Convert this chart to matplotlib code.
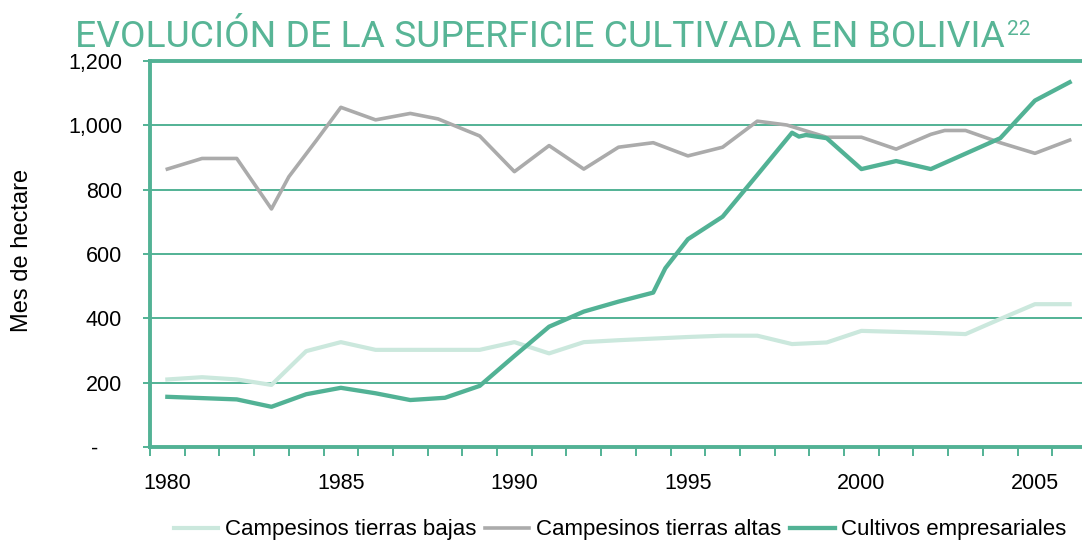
import numpy as np
import matplotlib
matplotlib.use("Agg")
import matplotlib.pyplot as plt

# --- Data (thousand hectares) ---
years_bajas = [1980, 1981, 1982, 1983, 1984, 1985, 1986, 1987, 1988, 1989, 1990,
               1991, 1992, 1993, 1994, 1995, 1996, 1997, 1998, 1999, 2000, 2001,
               2002, 2003, 2004, 2005, 2006]
bajas = [210, 217, 210, 193, 298, 326, 302, 302, 302, 302, 326,
         291, 326, 332, 337, 342, 346, 346, 320, 325, 361, 358,
         355, 351, 398, 444, 444]

years_altas = [1980, 1981, 1982, 1983, 1983.5, 1984.3, 1985, 1986, 1987, 1987.8,
               1989, 1990, 1991, 1992, 1993, 1994, 1995, 1996, 1997, 1997.85,
               1999, 2000, 2001, 2002, 2002.4, 2003, 2004, 2005, 2006]
altas = [864, 897, 897, 740, 840, 954, 1056, 1017, 1037, 1020,
         967, 856, 937, 864, 932, 946, 905, 932, 1013, 1001,
         963, 963, 926, 972, 984, 984, 946, 913, 954]

years_emp = [1980, 1981, 1982, 1983, 1984, 1985, 1986, 1987, 1988, 1989, 1990,
             1991, 1992, 1993, 1994, 1994.35, 1995, 1996, 1997, 1998, 1998.2,
             1998.4, 1999, 2000, 2001, 2002, 2003, 2004, 2005, 2006]
empresariales = [156, 152, 148, 125, 164, 184, 167, 146, 153, 190, 283,
                 374, 421, 452, 480, 556, 646, 716, 846, 977, 965,
                 970, 960, 864, 889, 864, 912, 960, 1077, 1134]

labels = ["Campesinos tierras bajas", "Campesinos tierras altas", "Cultivos empresariales"]
y_ticks = [0, 200, 400, 600, 800, 1000, 1200]
# accounting-style zero: dash followed by digit-width spaces
y_ticklabels = ["-\u2007\u2007", "200", "400", "600", "800", "1,000", "1,200"]
x_labelled = [1980, 1985, 1990, 1995, 2000, 2005]

GREEN = "#52B295"
LIGHT = "#CBE8DD"
GREY = "#ABABAB"
TITLE_GREEN = "#58B596"

plt.rcParams["font.family"] = ["Liberation Sans", "DejaVu Sans"]

W, H = 1082, 543
fig = plt.figure(figsize=(W / 100, H / 100), dpi=100)
ax = fig.add_axes([150 / W, 96 / H, 937 / W, 386 / H])

ax.plot(years_bajas, bajas, color=LIGHT, lw=3.0, label=labels[0])
ax.plot(years_altas, altas, color=GREY, lw=2.6, label=labels[1])
ax.plot(years_emp, empresariales, color=GREEN, lw=3.1, label=labels[2])

ax.set_xlim(1979.5, 2006.5)
ax.set_ylim(0, 1200)

# gridlines
for v in y_ticks[1:-1]:
    ax.axhline(v, color=GREEN, lw=1.4, zorder=0)

for side in ["left", "bottom", "top"]:
    ax.spines[side].set_color(GREEN)
    ax.spines[side].set_linewidth(2.8)
ax.spines["right"].set_visible(False)

ax.set_yticks(y_ticks)
ax.set_yticklabels(y_ticklabels)
ax.tick_params(axis="y", direction="out", length=5, width=1.4, color=GREEN,
               pad=15, labelsize=15.5)

ax.set_xticks(np.arange(1979.5, 2006.6, 1.0))
ax.set_xticklabels([])
ax.set_xticks(x_labelled, minor=True)
ax.set_xticklabels([str(y) for y in x_labelled], minor=True)
ax.tick_params(axis="x", which="major", direction="out", length=6.5, width=1.4, color=GREEN)
ax.tick_params(axis="x", which="minor", length=0, pad=19, labelsize=15.5)

fig.text(22 / W, 1 - 250 / H, "Mes de hectare", rotation=90, ha="center", va="center",
         fontsize=17)

# title with superscript, sized to span the same width as the reference
tfam = ["Roboto", "Liberation Sans", "DejaVu Sans"]
title = fig.text(75 / W, 1 - 47 / H, "EVOLUCIÓN DE LA SUPERFICIE CULTIVADA EN BOLIVIA",
                 fontsize=27, color=TITLE_GREEN, ha="left", va="baseline", family=tfam)
r = fig.canvas.get_renderer()
bb = title.get_window_extent(r)
title.set_fontsize(27 * 930 / bb.width)
bb = title.get_window_extent(r)
fig.text(bb.x1 / W + 0.002, 1 - 35 / H, "22", fontsize=15, color=TITLE_GREEN,
         ha="left", va="baseline", family=tfam)

fig.legend(loc="center", bbox_to_anchor=(620 / W, 13 / H), ncol=3, frameon=False,
           fontsize=16, handlelength=2.0, handletextpad=0.3, columnspacing=0.4)

fig.savefig("out.png", dpi=100)
